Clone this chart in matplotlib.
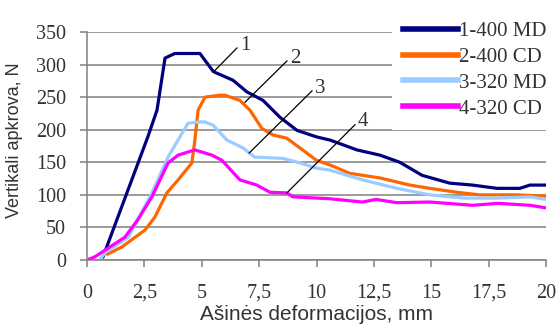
import matplotlib.pyplot as plt
import numpy as np

# data
x1 = [0.7, 2.65, 3.05, 3.4, 3.83, 4.92, 5.49, 5.58, 6.36, 6.97, 7.67, 8.41, 9.15, 10.0, 10.6,
      11.76, 12.76, 13.63, 14.6, 15.8, 16.8, 17.86, 18.86, 19.3, 20]
y1 = [5, 189, 230, 310, 317, 317, 290, 288, 276, 258, 245, 219, 199, 189, 184,
      169, 161, 150, 130, 118, 115, 110, 110, 115, 115]

x2 = [0.9, 1.52, 2.1, 2.53, 2.96, 3.48, 3.97, 4.57, 4.7, 4.84, 5.14, 5.8, 6.0, 6.66, 7.1, 7.62,
      8.1, 8.7, 9.28, 10.0, 10.58, 11.45, 12.76, 14.07, 14.94, 16.1, 17.1, 18.7, 20]
y2 = [9, 20, 35, 46, 66, 103, 123, 149, 184, 230, 250, 253, 253, 245, 230, 202,
      192, 187, 172, 153, 146, 133, 126, 115, 110, 104, 100, 100, 98]

x3 = [0.55, 0.78, 1.8, 2.83, 3.53, 4.4, 4.92, 5.14, 5.49, 6.1, 6.8, 7.3, 8.54, 9.28, 10.0,
      10.58, 12.0, 13.5, 14.94, 16.4, 17.9, 19.3, 20]
y3 = [0, 11, 35, 103, 158, 210, 212, 212, 207, 184, 172, 158, 156, 149, 141,
      138, 123, 110, 100, 95, 95, 97, 93]

x4 = [0, 0.35, 0.78, 1.65, 2.2, 2.83, 3.53, 3.97, 4.7, 5.44, 5.88, 6.66, 7.4, 7.97, 8.71,
      8.97, 10.58, 12.0, 12.6, 13.5, 14.94, 16.8, 17.9, 19.3, 20]
y4 = [0, 5, 15, 35, 61, 97, 149, 161, 169, 161, 153, 123, 115, 104, 103,
      97, 94, 89, 93, 88, 89, 84, 87, 84, 80]

names = ["1-400 MD", "2-400 CD", "3-320 MD", "4-320 CD"]
colors = ["#000080", "#FF6600", "#99CCFF", "#FF00FF"]

xticks = [0, 2.5, 5, 7.5, 10, 12.5, 15, 17.5, 20]
xticklabels = ["0", "2,5", "5", "7,5", "10", "12,5", "15", "17,5", "20"]
yticks = [0, 50, 100, 150, 200, 250, 300, 350]

# leader lines: (start x, start y, end x, end y)
leaders = [(5.49, 288, 6.66, 330), (6.88, 242, 8.84, 310),
           (7.06, 164, 9.93, 264), (8.71, 103, 11.8, 212)]
leader_labels = ["1", "2", "3", "4"]

fig = plt.figure(figsize=(5.6, 3.33), dpi=100)
ax = fig.add_axes([87/560, 1 - 260/333, (546-87)/560, (260-32)/333])

ax.plot(x1, y1, color=colors[0], lw=2.3, label=names[0])
ax.plot(x2, y2, color=colors[1], lw=2.3, label=names[1])
ax.plot(x3, y3, color=colors[2], lw=2.3, label=names[2])
ax.plot(x4, y4, color=colors[3], lw=2.3, label=names[3])

for (sx, sy, ex, ey), t in zip(leaders, leader_labels):
    ax.annotate(t, xy=(sx, sy), xytext=(ex, ey), fontsize=15, family="Liberation Serif",
                va="center", ha="left", color="#333333",
                arrowprops=dict(arrowstyle="-", color="black", lw=0.9,
                                shrinkA=0, shrinkB=0, relpos=(0, 0.5)))

ax.set_xlim(0, 20)
ax.set_ylim(0, 350)
ax.set_xticks(xticks)
ax.set_xticklabels(xticklabels)
ax.set_yticks(yticks)
ax.grid(axis="y", color="#808080", lw=1.1)
ax.set_axisbelow(True)
for s in ["top", "right"]:
    ax.spines[s].set_visible(False)
for s in ["left", "bottom"]:
    ax.spines[s].set_color("#808080")
    ax.spines[s].set_linewidth(1.1)
ax.tick_params(colors="#808080", length=5, width=1.1)
ax.tick_params(axis="x", pad=12)
ax.tick_params(axis="y", pad=10)
for lab in ax.get_xticklabels() + ax.get_yticklabels():
    lab.set_family("Liberation Serif")
    lab.set_fontsize(14.5)
    lab.set_color("#333333")

ax.set_xlabel("Ašinės deformacijos, mm", fontsize=15, family="Liberation Sans",
              color="#333333", labelpad=2)
ax.set_ylabel("Vertikali apkrova, N", fontsize=13, family="Liberation Sans",
              color="#333333")
ax.yaxis.set_label_coords(-0.139, 0.526)

leg = fig.legend(loc="upper left", bbox_to_anchor=(392/560, 1 - 10/333),
                 prop={"family": "Liberation Serif", "size": 15},
                 handlelength=2.6, handletextpad=0.05, labelspacing=0.3,
                 borderpad=0.55, borderaxespad=0, frameon=True, fancybox=False,
                 framealpha=1, facecolor="white", edgecolor="none")
for line in leg.get_lines():
    line.set_linewidth(4)
for t in leg.get_texts():
    t.set_color("#333333")

fig.savefig("out.png", dpi=100)
